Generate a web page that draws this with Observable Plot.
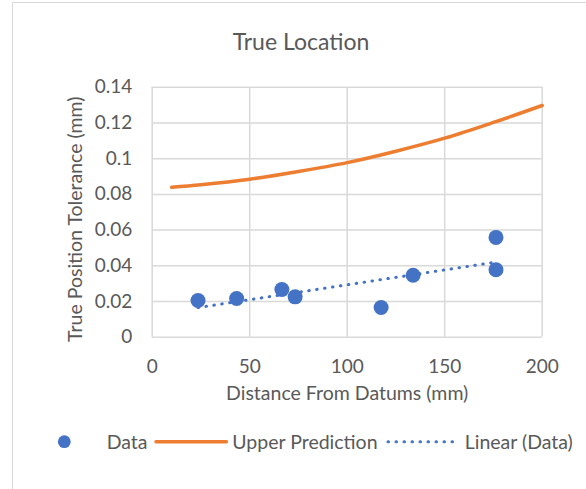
<!DOCTYPE html>
<html>
<head>
<meta charset="utf-8">
<script src="https://cdn.jsdelivr.net/npm/d3@7"></script>
<script src="https://cdn.jsdelivr.net/npm/@observablehq/plot@0.6"></script>
<style>
  html, body { margin: 0; padding: 0; background: #fff; }
  #chart { position: relative; width: 586px; height: 489px; overflow: hidden; font-family: Lato, "Noto Sans", sans-serif; color: #595959; }
  #frame { position: absolute; left: 12px; top: 2px; width: 800px; height: 800px; border: 1.5px solid #d9d9d9; box-sizing: border-box; }
  #title { position: absolute; left: 13px; width: 576px; top: 26px; text-align: center; font-size: 23px; line-height: 30px; }
  #plot { position: absolute; left: 0; top: 60px; }
  #legend { position: absolute; left: 0; top: 425px; width: 586px; height: 34px; font-size: 19.5px; }
  #legend .item { position: absolute; top: 0; height: 34px; line-height: 34px; white-space: nowrap; }
  #legend svg { position: absolute; top: 0; }
</style>
</head>
<body>
<div id="chart">
  <div id="frame"></div>
  <div id="title">True Location</div>
  <div id="plot"></div>
  <div id="legend"></div>
</div>
<script>
// Measured points: distance from datums (mm) vs true position tolerance (mm)
const distance = [23.5, 43.3, 66.5, 73.3, 117.4, 133.8, 176.3, 176.3];
const tolerance = [0.0206, 0.0217, 0.0267, 0.0226, 0.0166, 0.0347, 0.0378, 0.0559];

// Upper prediction limit curve
const upperDistance = [10, 25, 50, 75, 100, 125, 150, 175, 200];
const upperTolerance = [0.084, 0.0854, 0.0885, 0.0928, 0.0978, 0.1042, 0.1115, 0.1203, 0.1298];

// Axis ticks
const xTicks = [0, 50, 100, 150, 200];
const yTicks = [0, 0.02, 0.04, 0.06, 0.08, 0.1, 0.12, 0.14];

const blue = "#4472C4";
const orange = "#ED7D31";
const grey = "#d9d9d9";
const textColor = "#595959";

const points = distance.map((d, i) => ({distance: d, tolerance: tolerance[i]}));
const upper = upperDistance.map((d, i) => ({distance: d, tolerance: upperTolerance[i]}));

const chart = Plot.plot({
  width: 586,
  height: 360,
  marginTop: 26.8,
  marginBottom: 83.3,
  marginLeft: 151.7,
  marginRight: 44.3,
  style: {fontFamily: "Lato, 'Noto Sans', sans-serif", color: textColor, background: "transparent", overflow: "visible"},
  x: {domain: [0, 200], ticks: xTicks},
  y: {domain: [0, 0.14], ticks: yTicks},
  marks: [
    Plot.gridX(xTicks, {stroke: grey, strokeOpacity: 1, strokeWidth: 1.5}),
    Plot.gridY(yTicks, {stroke: grey, strokeOpacity: 1, strokeWidth: 1.5}),
    Plot.axisX(xTicks, {tickSize: 0, tickPadding: 22, fontSize: 19, label: null, fill: textColor}),
    Plot.axisY(yTicks, {tickSize: 0, tickPadding: 20, fontSize: 19, label: null, fill: textColor,
      tickFormat: d => d === 0 ? "0" : String(+d.toFixed(2))}),
    Plot.text(["Distance From Datums (mm)"], {frameAnchor: "bottom", dy: 62.5, fontSize: 19.5, fill: textColor}),
    Plot.text(["True Position Tolerance (mm)"], {frameAnchor: "left", textAnchor: "middle", dx: -76, dy: 7,
      rotate: -90, fontSize: 19.5, fill: textColor}),
    Plot.line(upper, {x: "distance", y: "tolerance", curve: "catmull-rom", stroke: orange, strokeWidth: 3.5, strokeLinecap: "round"}),
    Plot.linearRegressionY(points, {x: "distance", y: "tolerance", ci: 0, stroke: blue, strokeWidth: 3,
      strokeDasharray: "0.5 7.5", strokeLinecap: "round"}),
    Plot.dot(points, {x: "distance", y: "tolerance", r: 7.5, fill: blue, stroke: "none"})
  ]
});
document.getElementById("plot").appendChild(chart);

// Legend
const legendItems = [
  {kind: "dot", label: "Data", sx: 52, tx: 106.7},
  {kind: "solid", label: "Upper Prediction", sx: 155.7, sw: 70.3, tx: 232.3},
  {kind: "dotted", label: "Linear (Data)", sx: 387.9, sw: 69.1, tx: 464.7}
];
const legend = d3.select("#legend");
for (const item of legendItems) {
  if (item.kind === "dot") {
    const s = legend.append("svg").attr("width", 26).attr("height", 34).style("left", `${item.sx}px`);
    s.append("circle").attr("cx", 12.3).attr("cy", 16.7).attr("r", 6.4).attr("fill", blue);
  } else {
    const s = legend.append("svg").attr("width", item.sw + 4).attr("height", 34).style("left", `${item.sx - 2}px`);
    const l = s.append("line").attr("x1", 2).attr("x2", item.sw + 2).attr("y1", 16.7).attr("y2", 16.7)
      .attr("stroke-linecap", "round");
    if (item.kind === "solid") l.attr("stroke", orange).attr("stroke-width", 3.5);
    else l.attr("stroke", blue).attr("stroke-width", 3).attr("stroke-dasharray", "0.5 7.5");
  }
  legend.append("div").attr("class", "item").style("left", `${item.tx}px`).text(item.label);
}
</script>
</body>
</html>
